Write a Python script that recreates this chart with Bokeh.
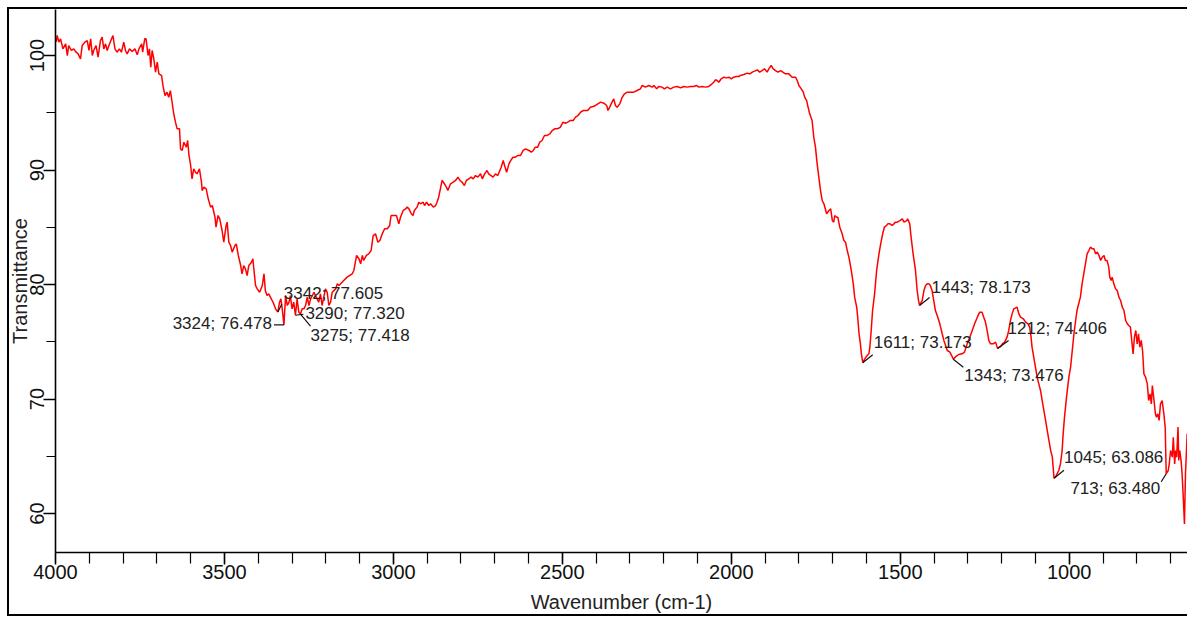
from bokeh.plotting import figure
from bokeh.models import SingleIntervalTicker, Range1d, ColumnDataSource
from bokeh.embed import file_html
from bokeh.resources import INLINE
from bokeh.core.properties import value

# ---------------- data ----------------
wn_a = [3998, 3995, 3990, 3985, 3978, 3970, 3965, 3961, 3953, 3946, 3939, 3933, 3926, 3921, 3913, 3906,
        3901, 3896, 3891, 3887, 3880, 3874, 3867, 3862, 3857, 3852, 3847, 3842, 3834, 3830, 3824, 3818,
        3811, 3805, 3798, 3793, 3788, 3781, 3773, 3765, 3758, 3753, 3745, 3742, 3736, 3732, 3726, 3722,
        3718, 3714, 3709, 3704, 3699, 3694, 3686, 3682, 3676, 3670, 3665, 3660, 3655, 3650, 3645, 3640,
        3633, 3630, 3625, 3620, 3613, 3609, 3605, 3600, 3596, 3591, 3586, 3581, 3574, 3568, 3566, 3561,
        3554, 3548, 3541, 3536, 3528, 3525, 3519, 3514, 3507, 3502, 3495, 3492, 3487, 3482, 3477, 3469,
        3465, 3459, 3452, 3448, 3443, 3438, 3433, 3428, 3420, 3416, 3413, 3408, 3403, 3396, 3388, 3383,
        3379, 3374, 3369, 3364, 3359, 3354, 3349, 3342, 3337, 3333, 3329, 3324, 3319, 3314, 3309, 3305,
        3300, 3295, 3290, 3285, 3280, 3275, 3270, 3265, 3260, 3255, 3250, 3245, 3240, 3235, 3231, 3226,
        3221, 3216, 3211, 3206, 3201, 3196, 3191, 3186, 3181, 3171, 3166, 3161]
tr_a = [101.2, 101.75, 101.17, 101.46, 100.58, 101.02, 100.00, 100.87, 100.44, 100.58, 100.29, 100.15, 99.71,
        100.87, 101.17, 101.31, 100.44, 101.46, 100.00, 100.44, 100.87, 99.86, 101.31, 101.60, 100.58, 101.02,
        100.44, 100.87, 101.46, 101.75, 100.58, 100.29, 100.58, 100.29, 101.17, 100.44, 100.15, 100.58, 100.35,
        100.58, 100.06, 100.58, 101.02, 100.29, 101.46, 101.46, 100.00, 100.58, 98.98, 100.44, 99.71, 98.55,
        99.42, 98.40, 98.25, 97.38, 96.51, 96.80, 96.36, 96.94, 95.92, 94.91, 94.18, 93.60, 93.60, 91.85,
        91.71, 92.43, 91.99, 92.58, 91.27, 90.40, 89.23, 90.11, 89.81, 89.67, 90.11, 88.94, 88.21, 88.50,
        88.36, 87.49, 86.76, 86.90, 85.88, 85.01, 86.03, 85.74, 84.72, 83.70, 85.16, 85.45, 83.70, 83.41,
        82.83, 83.41, 83.55, 82.54, 81.66, 80.93, 81.66, 81.37, 80.79, 81.66, 81.95, 82.24, 81.37, 79.92,
        79.62, 79.33, 79.92, 80.93, 79.48, 79.04, 79.19, 78.90, 78.61, 78.31, 77.88, 77.605, 78.46, 78.75,
        77.88, 76.478, 79.04, 78.17, 78.46, 79.04, 77.88, 78.46, 77.320, 78.75, 77.58, 77.418, 77.88, 77.88,
        78.17, 78.90, 78.17, 78.75, 79.04, 79.33, 79.04, 78.75, 78.46, 79.19, 78.17, 78.90, 79.62, 79.33,
        78.17, 78.46, 79.33, 79.62, 80.06, 79.92]

wn_b = [3147, 3137, 3122, 3117, 3109, 3102, 3097, 3092, 3088, 3080, 3073, 3066, 3060, 3053, 3046, 3040,
        3033, 3026, 3018, 3011, 3007, 2999, 2991, 2984, 2979, 2971, 2964, 2959, 2954, 2947, 2942, 2938,
        2930, 2925, 2920, 2912, 2908, 2902, 2895, 2890, 2882, 2875, 2871, 2866, 2861, 2856, 2849, 2843,
        2839, 2831, 2823, 2816, 2809, 2803, 2797, 2790, 2784, 2777, 2770, 2764, 2757, 2750, 2742, 2737,
        2730, 2723, 2718, 2711, 2705, 2698, 2691, 2685, 2681, 2675, 2671, 2665, 2658, 2653, 2646, 2639,
        2632, 2624, 2616, 2609, 2599, 2592, 2586, 2580, 2573, 2567, 2560, 2553, 2545, 2537, 2530, 2523,
        2515, 2506, 2498, 2491, 2484, 2476, 2468, 2461, 2454, 2446, 2438, 2432, 2425, 2417, 2409, 2402,
        2395, 2387, 2377, 2369, 2365, 2360, 2353, 2348, 2343, 2338, 2330, 2323, 2316, 2308, 2298, 2289,
        2279, 2269, 2264, 2254, 2244, 2234, 2229, 2221, 2215, 2205, 2198, 2190, 2180, 2170, 2160, 2150,
        2141, 2131, 2121, 2111, 2103, 2096, 2086, 2076, 2067, 2057, 2052, 2047, 2042, 2037, 2030, 2022,
        2014, 2007, 2000, 1993, 1985, 1978, 1973, 1963, 1953, 1945, 1938, 1931, 1923, 1916, 1909, 1902,
        1894, 1889, 1882, 1876, 1869, 1862, 1854]
tr_b = [80.35, 80.65, 80.94, 81.23, 82.54, 82.25, 81.81, 82.54, 82.10, 82.54, 82.68, 82.97, 84.28, 84.43,
        83.70, 83.85, 84.43, 84.87, 84.87, 85.16, 86.03, 86.03, 86.03, 85.30, 85.88, 86.47, 86.61, 86.76,
        86.61, 86.18, 86.03, 86.47, 86.76, 87.19, 87.05, 87.19, 86.90, 87.19, 86.90, 87.05, 86.76, 86.90,
        87.19, 87.63, 88.36, 89.09, 88.80, 88.51, 88.21, 88.80, 88.94, 89.09, 89.38, 89.09, 88.94, 88.65,
        89.09, 89.23, 89.38, 89.23, 89.52, 89.38, 89.67, 89.23, 89.67, 89.96, 89.67, 89.52, 89.38, 89.67,
        89.52, 89.96, 90.25, 90.83, 90.40, 89.81, 90.54, 90.83, 91.12, 91.12, 91.27, 91.27, 91.71, 91.85,
        91.71, 91.56, 91.71, 92.00, 92.00, 92.43, 92.58, 93.02, 93.02, 93.16, 93.45, 93.60, 93.60, 93.74,
        94.18, 94.09, 94.18, 94.33, 94.33, 94.62, 94.76, 95.05, 95.20, 95.20, 95.20, 95.49, 95.55, 95.64,
        95.78, 95.93, 95.84, 95.64, 95.20, 95.49, 95.93, 96.22, 95.64, 95.49, 95.78, 96.36, 96.66, 96.80,
        96.80, 96.80, 96.95, 97.09, 97.38, 97.24, 97.38, 97.24, 97.38, 97.09, 97.30, 97.24, 97.09, 97.24,
        97.09, 97.24, 97.30, 97.18, 97.30, 97.24, 97.30, 97.30, 97.38, 97.24, 97.30, 97.24, 97.30, 97.53,
        97.67, 97.88, 97.82, 97.67, 97.97, 98.11, 98.05, 98.11, 97.97, 98.11, 98.17, 98.17, 98.26, 98.34,
        98.46, 98.40, 98.55, 98.64, 98.75, 98.55, 98.69, 98.84, 98.55, 98.84, 99.13, 98.84, 98.69, 98.55,
        98.69]

wn_c = [1840, 1830, 1820, 1810, 1805, 1800, 1793, 1787, 1783, 1777, 1774, 1768, 1761, 1756, 1751, 1746,
        1741, 1736, 1731, 1726, 1718, 1711, 1706, 1701, 1697, 1694, 1689, 1685, 1679, 1672, 1667, 1662,
        1657, 1652, 1645, 1639, 1635, 1629, 1626, 1622, 1618, 1615, 1611, 1605, 1598, 1593, 1590, 1586,
        1582, 1576, 1570, 1563, 1558, 1551, 1547, 1541, 1537, 1531, 1524, 1519, 1514, 1509, 1501, 1494,
        1489, 1481, 1478, 1472, 1468, 1462, 1455, 1450, 1446, 1443, 1435, 1430, 1425, 1420, 1415, 1411,
        1406, 1401, 1396, 1389, 1383, 1376, 1371, 1366, 1361, 1353, 1348, 1343, 1336, 1327, 1317, 1310,
        1302, 1294, 1287, 1280, 1272, 1265, 1258, 1253, 1248, 1243, 1238, 1233, 1225, 1218, 1212, 1208,
        1203, 1198, 1191, 1184, 1179, 1174, 1169, 1164, 1154, 1152, 1149, 1144, 1136, 1129, 1122, 1117,
        1113, 1110, 1105, 1100, 1095, 1090, 1085, 1080, 1075, 1070, 1065, 1060, 1055, 1050, 1045, 1041,
        1036, 1031, 1026, 1021, 1018, 1014, 1008, 1001, 996, 991, 986, 981, 977, 972, 967, 962,
        957, 952, 947, 942, 937, 932, 927, 922, 917, 912, 907, 902, 897, 893, 888, 883,
        880, 876, 873, 868, 863, 858, 853, 848, 843, 838, 833, 828, 824, 819, 814, 811,
        807, 803, 799, 795, 791, 787, 783, 779, 774, 769, 765, 761, 757, 754, 749, 745,
        742, 738, 734, 730, 725, 720, 716, 713, 707, 704, 700, 695, 692, 688, 685, 682,
        678, 676, 673, 669, 666, 663, 659, 656, 653, 651]
tr_c = [98.40, 98.40, 98.11, 98.11, 97.82, 97.38, 97.09, 96.80, 96.37, 96.07, 95.64, 94.91, 94.33, 92.87,
        92.00, 90.54, 89.38, 88.21, 87.34, 87.05, 86.18, 86.47, 86.61, 85.59, 85.45, 86.03, 85.88, 85.88,
        85.01, 84.43, 83.85, 83.70, 82.97, 82.39, 81.23, 80.06, 78.90, 78.03, 77.15, 75.70, 74.82, 73.95,
        73.173, 73.51, 73.80, 73.95, 74.53, 75.99, 77.73, 79.19, 81.23, 82.68, 83.56, 84.57, 85.01, 85.16,
        85.30, 85.30, 85.16, 85.30, 85.45, 85.45, 85.59, 85.74, 85.45, 85.59, 85.74, 85.30, 84.14, 82.68,
        81.23, 79.48, 78.61, 78.173, 78.61, 79.48, 79.92, 80.06, 80.06, 79.92, 79.48, 78.61, 77.73, 77.15,
        76.57, 75.70, 75.12, 74.68, 74.24, 74.10, 73.80, 73.476, 73.70, 73.89, 73.95, 74.10, 74.82, 75.41,
        75.99, 76.57, 77.15, 77.59, 77.59, 77.15, 76.72, 75.99, 75.12, 74.82, 74.82, 74.97, 74.406, 74.53,
        74.59, 74.82, 74.97, 75.41, 75.99, 76.86, 77.44, 77.88, 78.03, 77.73, 77.44, 77.15, 77.01, 76.72,
        76.57, 76.28, 75.41, 74.53, 73.66, 72.79, 71.91, 71.33, 70.75, 69.87, 69.00, 68.13, 67.25, 66.38,
        65.51, 64.93, 63.086, 63.18, 63.47, 63.76, 64.34, 65.51, 66.96, 68.42, 70.17, 71.91, 72.79, 74.24,
        75.70, 76.86, 77.73, 78.32, 78.90, 80.06, 80.94, 81.81, 82.68, 82.97, 83.27, 83.12, 83.12, 82.68,
        82.83, 82.54, 82.10, 82.39, 82.54, 82.10, 82.10, 81.52, 80.65, 80.35, 80.65, 80.06, 79.63, 79.48,
        78.90, 78.61, 78.03, 77.73, 76.86, 76.57, 76.42, 76.28, 74.82, 73.95, 75.41, 75.99, 74.82, 75.70,
        74.53, 75.12, 74.24, 72.20, 71.91, 71.33, 69.87, 70.46, 69.58, 71.18, 69.87, 68.71, 68.42, 68.71,
        68.13, 69.58, 69.87, 68.71, 67.55, 63.480, 63.76, 64.34, 65.51, 64.93, 66.67, 64.34, 65.51, 64.93,
        67.55, 64.63, 65.51, 64.63, 63.47, 61.72, 59.10, 63.47, 65.51, 66.96]

wavenumber = wn_a + wn_b + wn_c
transmittance = tr_a + tr_b + tr_c

# marked peaks
peak_wavenumber = [3342, 3324, 3290, 3275, 1611, 1443, 1343, 1212, 1045, 713]
peak_transmittance = [77.605, 76.478, 77.320, 77.418, 73.173, 78.173, 73.476, 74.406, 63.086, 63.480]

x_major_step, x_minor_count = 500, 5
y_major_step, y_minor_count = 10, 2

# ---------------- layout / style ----------------
FIG_W, FIG_H = 1187, 619
B_LEFT, B_TOP, B_BOTTOM = 55, 9, 67
X_START, X_END = 4000, 650
Y_BOTTOM, Y_TOP = 56.60, 104.02
FONT = "Liberation Sans"

# per-peak label placement in screen pixels (dx right, dy down)
leader_px = [(4, -8), (-10, 0), (8, -1), (10, 12), (10, -8), (10, -8), (10, 8), (11, -8), (10, -8), (-5, 8)]
text_px = [(6, -18), (-12, -1), (10, -2), (10, 21), (11, -20), (12, -18), (11, 16), (10, -20), (10, -21), (-6, 15)]
text_right = [False, True, False, False, False, False, False, False, False, True]

p = figure(width=FIG_W, height=FIG_H,
           x_range=Range1d(X_START, X_END), y_range=Range1d(Y_BOTTOM, Y_TOP),
           output_backend="svg", toolbar_location=None,
           min_border_left=B_LEFT, min_border_right=0, min_border_top=B_TOP, min_border_bottom=B_BOTTOM)
# outer box of the picture, painted behind the (transparent) canvas
box = "linear-gradient(#000000, #000000)"
p.styles = {
    "background": (f"{box} 7px 7px / 1180px 2px no-repeat, "
                   f"{box} 7px 7px / 2px 609px no-repeat, "
                   f"{box} 7px 614px / 1180px 2px no-repeat, #ffffff"),
}
p.border_fill_alpha = 0
p.outline_line_color = None
p.xgrid.visible = False
p.ygrid.visible = False
p.background_fill_color = "white"

p.line(wavenumber, transmittance, line_color="#ff0000", line_width=1.5)

# annotations
frame_w = FIG_W - B_LEFT
frame_h = FIG_H - B_TOP - B_BOTTOM
px_per_x = frame_w / (X_START - X_END)
px_per_y = frame_h / (Y_TOP - Y_BOTTOM)
labels = [f"{w}; {t:.3f}" for w, t in zip(peak_wavenumber, peak_transmittance)]
x1 = [w - dx / px_per_x for w, (dx, dy) in zip(peak_wavenumber, leader_px)]
y1 = [t - dy / px_per_y for t, (dx, dy) in zip(peak_transmittance, leader_px)]
p.segment(x0=peak_wavenumber, y0=peak_transmittance, x1=x1, y1=y1, line_color="#111111", line_width=1.2)

for right in (False, True):
    idx = [i for i in range(len(labels)) if text_right[i] == right]
    src = ColumnDataSource(dict(
        x=[peak_wavenumber[i] for i in idx], y=[peak_transmittance[i] for i in idx],
        t=[labels[i] for i in idx], dx=[text_px[i][0] for i in idx], dy=[text_px[i][1] for i in idx]))
    p.text(x="x", y="y", text="t", x_offset="dx", y_offset="dy", source=src,
           text_align="right" if right else "left", text_baseline="middle",
           text_font=value(FONT), text_font_size="17px", text_color="#222222")

# axes
p.xaxis.ticker = SingleIntervalTicker(interval=x_major_step, num_minor_ticks=x_minor_count)
p.yaxis.ticker = SingleIntervalTicker(interval=y_major_step, num_minor_ticks=y_minor_count)
p.xaxis.axis_label = "Wavenumber (cm-1)"
p.yaxis.axis_label = "Transmittance"
p.yaxis.major_label_orientation = "vertical"
for ax in (p.xaxis[0], p.yaxis[0]):
    ax.axis_line_color = "black"
    ax.axis_line_width = 1.6
    ax.major_tick_line_color = "black"
    ax.minor_tick_line_color = "black"
    ax.major_tick_line_width = 1.5
    ax.minor_tick_line_width = 1.2
    ax.major_tick_in = 0
    ax.minor_tick_in = 0
    ax.major_label_text_font = FONT
    ax.major_label_text_font_size = "20px"
    ax.major_label_text_color = "#111111"
    ax.axis_label_text_font = FONT
    ax.axis_label_text_font_size = "20px"
    ax.axis_label_text_font_style = "normal"
    ax.axis_label_text_color = "#222222"
p.xaxis.major_tick_out = 12
p.xaxis.minor_tick_out = 11
p.xaxis.major_label_standoff = 0
p.xaxis.axis_label_standoff = 9
p.yaxis.major_tick_out = 12
p.yaxis.minor_tick_out = 9
p.yaxis.major_label_standoff = -1
p.yaxis.axis_label_standoff = -3

open("out.html", "w").write(file_html(p, INLINE))
